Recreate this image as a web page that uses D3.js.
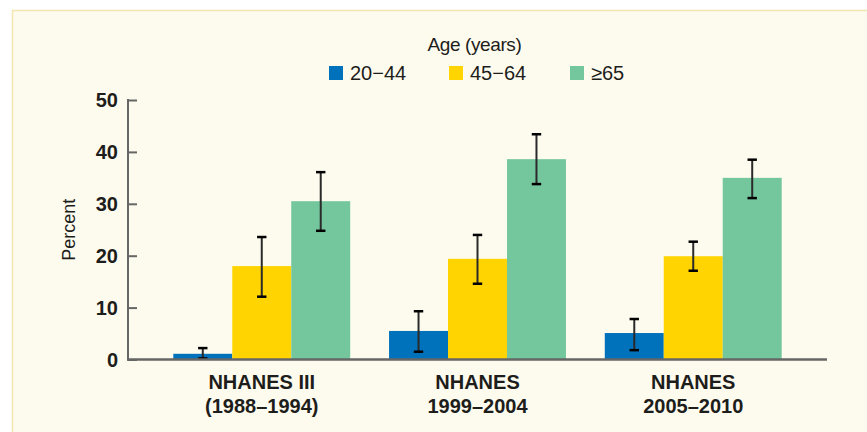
<!DOCTYPE html>
<html>
<head>
<meta charset="utf-8">
<script src="https://cdn.jsdelivr.net/npm/d3@7"></script>
<style>
  html, body { margin: 0; padding: 0; background: #ffffff; }
  svg { display: block; }
  text { font-family: "Liberation Sans", Arial, sans-serif; fill: #1d1d1b; }
</style>
</head>
<body>
<svg id="chart" width="867" height="432"></svg>
<script>
// ---- Data ----
const categories = ["NHANES III (1988–1994)", "NHANES 1999–2004", "NHANES 2005–2010"];
const categoryLine1 = ["NHANES III", "NHANES", "NHANES"];
const categoryLine2 = ["(1988–1994)", "1999–2004", "2005–2010"];
const series = ["20−44", "45−64", "≥65"];
const seriesColors = ["#0072bc", "#ffd400", "#74c69d"];
const values_20_44 = [1.1, 5.5, 5.1];
const values_45_64 = [18.0, 19.4, 19.9];
const values_65 = [30.5, 38.6, 35.0];
const lower_20_44 = [0.2, 1.5, 1.8];
const upper_20_44 = [2.2, 9.3, 7.8];
const lower_45_64 = [12.1, 14.6, 17.1];
const upper_45_64 = [23.6, 24.0, 22.7];
const lower_65 = [24.8, 33.8, 31.1];
const upper_65 = [36.1, 43.4, 38.5];
const yTicks = [0, 10, 20, 30, 40, 50];
const legendTitle = "Age (years)";
const yLabel = "Percent";

const valuesBySeries = [values_20_44, values_45_64, values_65];
const lowerBySeries = [lower_20_44, lower_45_64, lower_65];
const upperBySeries = [upper_20_44, upper_45_64, upper_65];

const rows = [];
categories.forEach((c, ci) => {
  series.forEach((s, si) => {
    rows.push({cat: c, ser: s, si: si, v: valuesBySeries[si][ci], lo: lowerBySeries[si][ci], hi: upperBySeries[si][ci]});
  });
});

// ---- Layout ----
const svg = d3.select("#chart");
const W = 867, H = 432;
const plot = {left: 128, right: 827, top: 100, bottom: 359.5};

// background panel
svg.append("rect").attr("x", 12).attr("y", 10).attr("width", W - 12).attr("height", H - 10)
  .attr("fill", "#fdfbee");
svg.append("line").attr("x1", 12).attr("x2", W).attr("y1", 10.5).attr("y2", 10.5)
  .attr("stroke", "#f1e6b2").attr("stroke-width", 1.5);
svg.append("line").attr("x1", 12.5).attr("x2", 12.5).attr("y1", 10).attr("y2", H)
  .attr("stroke", "#f1e6b2").attr("stroke-width", 1.5);

const y = d3.scaleLinear().domain([0, 50]).range([plot.bottom, plot.top]);
const x0 = d3.scaleBand().domain(categories).range([plot.left, plot.right])
  .paddingInner(0.18).paddingOuter(0.21);
const x1 = d3.scaleBand().domain(series).range([0, x0.bandwidth()]).padding(0);
const color = d3.scaleOrdinal().domain(series).range(seriesColors);

// bars
svg.append("g").selectAll("rect").data(rows).join("rect")
  .attr("x", d => x0(d.cat) + x1(d.ser))
  .attr("y", d => y(d.v))
  .attr("width", x1.bandwidth())
  .attr("height", d => y(0) - y(d.v))
  .attr("fill", d => color(d.ser));

// error bars
const eb = svg.append("g").selectAll("g").data(rows).join("g")
  .attr("transform", d => `translate(${x0(d.cat) + x1(d.ser) + x1.bandwidth() / 2},0)`);
eb.append("line").attr("x1", 0).attr("x2", 0)
  .attr("y1", d => y(d.hi)).attr("y2", d => y(d.lo))
  .attr("stroke", "#2a2a2a").attr("stroke-width", 2);
eb.append("line").attr("x1", -4.7).attr("x2", 4.7)
  .attr("y1", d => y(d.hi)).attr("y2", d => y(d.hi))
  .attr("stroke", "#000").attr("stroke-width", 2.5);
eb.append("line").attr("x1", -4.7).attr("x2", 4.7)
  .attr("y1", d => y(d.lo)).attr("y2", d => y(d.lo))
  .attr("stroke", "#000").attr("stroke-width", 2.5);

// y axis (ticks pointing inward)
const yAxis = d3.axisRight(y).tickValues(yTicks).tickSize(9).tickFormat("");
const gy = svg.append("g").attr("transform", `translate(${plot.left},0)`).call(yAxis);
gy.select(".domain").remove();
gy.selectAll(".tick line").attr("stroke", "#666").attr("stroke-width", 2);
svg.append("line").attr("x1", plot.left).attr("x2", plot.left)
  .attr("y1", plot.top - 1).attr("y2", plot.bottom + 1)
  .attr("stroke", "#666").attr("stroke-width", 2);
svg.append("g").selectAll("text").data(yTicks).join("text")
  .attr("x", plot.left - 10).attr("y", d => y(d)).attr("dy", "0.36em")
  .attr("text-anchor", "end")
  .style("font-size", "20px").style("font-weight", "bold")
  .text(d => d);

// x axis line
svg.append("line").attr("x1", plot.left - 1).attr("x2", plot.right)
  .attr("y1", plot.bottom).attr("y2", plot.bottom)
  .attr("stroke", "#666").attr("stroke-width", 2.3);

// category labels
const cl = svg.append("g").selectAll("text").data(categories).join("text")
  .attr("text-anchor", "middle")
  .style("font-size", "20px").style("font-weight", "bold");
cl.append("tspan").attr("x", d => x0(d) + x0.bandwidth() / 2).attr("y", 389)
  .text((d, i) => categoryLine1[i]);
cl.append("tspan").attr("x", d => x0(d) + x0.bandwidth() / 2).attr("y", 413)
  .text((d, i) => categoryLine2[i]);

// y label
svg.append("text").attr("transform", `translate(75,${(plot.top + plot.bottom) / 2}) rotate(-90)`)
  .attr("text-anchor", "middle").style("font-size", "18px").text(yLabel);

// legend
svg.append("text").attr("x", 474.5).attr("y", 51).attr("text-anchor", "middle")
  .style("font-size", "19px").style("letter-spacing", "-0.4px").text(legendTitle);
const legendX = [329, 449, 570];
const lg = svg.append("g").selectAll("g").data(series).join("g")
  .attr("transform", (d, i) => `translate(${legendX[i]},66)`);
lg.append("rect").attr("width", 14).attr("height", 14).attr("fill", d => color(d));
lg.append("text").attr("x", 21).attr("y", 13.5).style("font-size", "20px").text(d => d);
</script>
</body>
</html>
